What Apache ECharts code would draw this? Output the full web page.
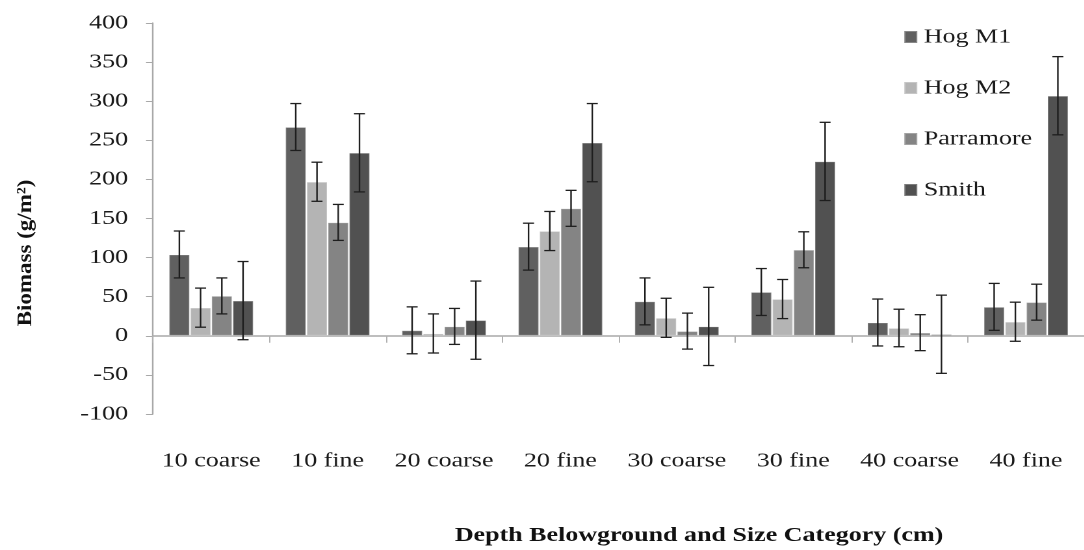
<!DOCTYPE html>
<html>
<head>
<meta charset="utf-8">
<style>
  html, body { margin: 0; padding: 0; background: #fff; }
  #wrap { width: 1084px; height: 550px; overflow: hidden; }
  /* 原图横向拉伸约1.3倍 */
  #main { width: 834px; height: 550px; transform: scaleX(1.3); transform-origin: 0 0; }
</style>
<script src="https://cdn.jsdelivr.net/npm/echarts@6/dist/echarts.min.js"></script>
</head>
<body>
<div id="wrap"><div id="main"></div></div>
<script>
// 类别与数据
var categories = ['10 coarse', '10 fine', '20 coarse', '20 fine', '30 coarse', '30 fine', '40 coarse', '40 fine'];
var seriesNames = ['Hog M1', 'Hog M2', 'Parramore', 'Smith'];
var hogM1 = [104, 267, 7, 114, 44, 56, 17, 37];
var hogM2 = [36, 197, 3, 134, 23, 47, 10, 18];
var parramore = [51, 145, 12, 163, 6, 110, 4, 43];
var smith = [45, 234, 20, 247, 12, 223, 2, 307];
var hogM1Err = [30, 30, 30, 30, 30, 30, 30, 30];
var hogM2Err = [25, 25, 25, 25, 25, 25, 24, 25];
var parramoreErr = [23, 23, 23, 23, 23, 23, 23, 23];
var smithErr = [50, 50, 50, 50, 50, 50, 50, 50];
var yTicks = [-100, -50, 0, 50, 100, 150, 200, 250, 300, 350, 400];

var SX = 1.3;
var colors = ['#606060', '#b4b4b4', '#848484', '#515151'];
var values = [hogM1, hogM2, parramore, smith];
var errors = [hogM1Err, hogM2Err, parramoreErr, smithErr];
var catGap = 0.27;
var font = 'Liberation Serif';

// 误差线数据: [类别, 系列序号, 下限, 上限]
var errData = [];
for (var s = 0; s < values.length; s++) {
    for (var i = 0; i < categories.length; i++) {
        errData.push([i, s, values[s][i] - errors[s][i], values[s][i] + errors[s][i]]);
    }
}

function renderError(params, api) {
    var cat = api.value(0);
    var s = api.value(1);
    var band = api.size([1, 0])[0];
    var barW = band * (1 - catGap) / 4;
    var x = api.coord([cat, 0])[0] + (s - 1.5) * barW;
    var yLo = api.coord([cat, api.value(2)])[1];
    var yHi = api.coord([cat, api.value(3)])[1];
    var cap = 5.5 / SX;
    var style = { stroke: '#1e1e1e', lineWidth: 1.3 };
    return {
        type: 'group',
        children: [
            { type: 'line', shape: { x1: x, y1: yLo, x2: x, y2: yHi }, style: { stroke: '#1e1e1e', lineWidth: 1.2 } },
            { type: 'line', shape: { x1: x - cap, y1: yHi, x2: x + cap, y2: yHi }, style: style },
            { type: 'line', shape: { x1: x - cap, y1: yLo, x2: x + cap, y2: yLo }, style: style }
        ]
    };
}

var chart = echarts.init(document.getElementById('main'), null, { devicePixelRatio: 2 });

var series = seriesNames.map(function (name, k) {
    return {
        name: name,
        type: 'bar',
        data: values[k],
        barGap: '0%',
        barCategoryGap: (catGap * 100) + '%',
        itemStyle: { color: colors[k], borderColor: 'rgba(255,255,255,0.25)', borderWidth: 1 }
    };
});
series.push({
    type: 'custom',
    renderItem: renderError,
    data: errData,
    encode: { x: 0, y: [2, 3] },
    z: 10,
    silent: true
});

chart.setOption({
    animation: false,
    color: colors,
    textStyle: { fontFamily: font },
    grid: {
        left: 153 / SX,
        top: 23,
        width: 943 / SX,
        height: 391
    },
    legend: {
        data: seriesNames,
        orient: 'vertical',
        left: 903 / SX,
        top: 27,
        itemWidth: 10,
        itemHeight: 12,
        itemGap: 31,
        padding: 0,
        icon: 'rect',
        textStyle: { fontFamily: font, fontSize: 20, color: '#1a1a1a' }
    },
    xAxis: [
        {
            type: 'category',
            data: categories,
            position: 'bottom',
            axisLine: { onZero: true, lineStyle: { color: '#a8a8a8', width: 1.5 } },
            axisTick: { show: true, length: 7, lineStyle: { color: '#b0b0b0' } },
            axisLabel: { show: false }
        },
        {
            type: 'category',
            data: categories,
            position: 'bottom',
            axisLine: { show: false, onZero: false },
            axisTick: { show: false },
            axisLabel: { interval: 0, hideOverlap: false, margin: 37, fontFamily: font, fontSize: 20, color: '#1a1a1a' }
        }
    ],
    yAxis: {
        type: 'value',
        min: yTicks[0],
        max: yTicks[yTicks.length - 1],
        interval: 50,
        axisLine: { show: true, lineStyle: { color: '#a8a8a8', width: 1.2 } },
        axisTick: { show: true, length: 7 / SX, lineStyle: { color: '#a8a8a8' } },
        splitLine: { show: false },
        axisLabel: { margin: 25 / SX, fontFamily: font, fontSize: 20, color: '#1a1a1a' }
    },
    graphic: [
        {
            type: 'text',
            x: 26 / SX,
            y: 253,
            rotation: Math.PI / 2,
            scaleY: 0.7,
            style: {
                text: 'Biomass (g/m²)',
                font: 'bold 23px "Liberation Serif"',
                fill: '#111',
                textAlign: 'center',
                textVerticalAlign: 'middle'
            }
        },
        {
            type: 'text',
            x: 699 / SX,
            y: 536,
            style: {
                text: 'Depth Belowground and Size Category (cm)',
                font: 'bold 20px "Liberation Serif"',
                fill: '#111',
                textAlign: 'center',
                textVerticalAlign: 'middle'
            }
        }
    ],
    series: series
});
</script>
</body>
</html>
